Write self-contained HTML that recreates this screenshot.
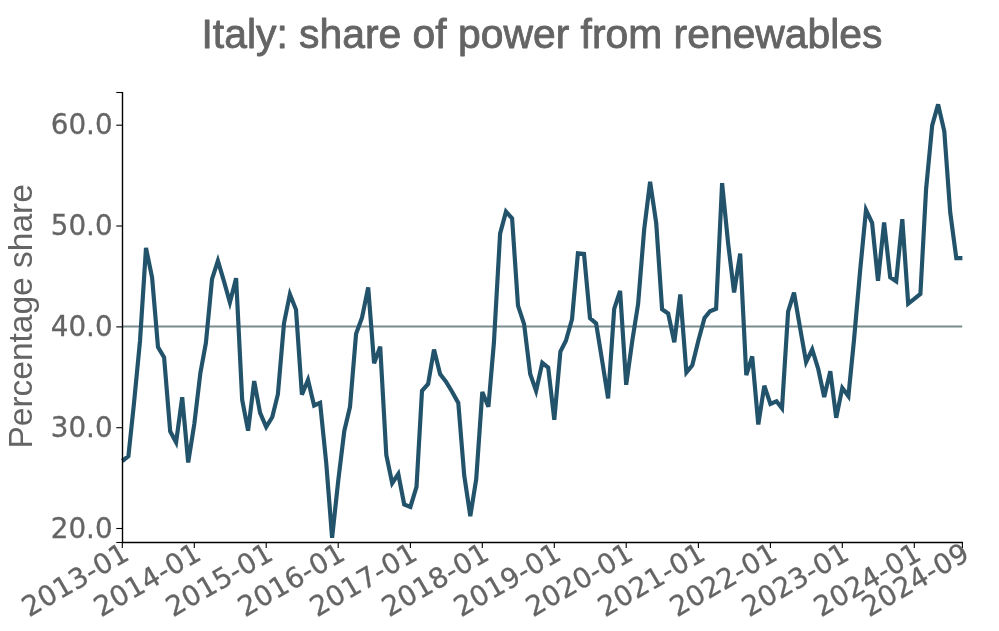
<!DOCTYPE html>
<html lang="en"><head><meta charset="utf-8"><title>Italy: share of power from renewables</title>
<style>
html,body{margin:0;padding:0;background:#fff;}
body{width:999px;height:631px;overflow:hidden;}
svg{display:block;}
.t{font-family:"Liberation Sans",sans-serif;fill:#646464;}
.k{font-family:"DejaVu Sans","Liberation Sans",sans-serif;font-size:27.78px;fill:#646464;stroke:#646464;stroke-width:0.3px;}
</style></head><body>
<svg width="999" height="631" viewBox="0 0 999 631">
<rect width="999" height="631" fill="#ffffff"/>
<text class="t" x="542.0" y="47.9" text-anchor="middle" font-size="41.2" stroke="#646464" stroke-width="0.85" stroke-linejoin="round" textLength="681" lengthAdjust="spacingAndGlyphs">Italy: share of power from renewables</text>
<text class="t" transform="translate(32,316.4) rotate(-90)" text-anchor="middle" font-size="34" textLength="264.4" lengthAdjust="spacingAndGlyphs">Percentage share</text>
<line x1="122.5" y1="326.5" x2="962.2" y2="326.5" stroke="#7a8b8d" stroke-width="2.0"/>
<polyline fill="none" stroke="#22536b" stroke-width="4.17" stroke-linejoin="miter" stroke-miterlimit="4" stroke-linecap="butt" points="122.3,461.0 128.4,456.1 133.9,404.1 140.0,341.0 146.0,248.0 152.1,277.6 158.0,347.2 164.1,357.3 170.2,431.3 176.1,442.4 182.2,397.2 188.2,462.5 194.3,424.0 200.4,372.8 205.9,343.0 212.0,279.2 217.9,260.8 224.0,281.3 229.9,302.5 236.1,278.2 242.2,400.0 248.1,430.7 254.2,381.1 260.1,412.9 266.2,427.0 272.3,417.0 277.9,394.2 284.0,323.2 289.9,294.2 296.0,309.6 301.9,394.6 308.0,379.9 314.1,405.5 320.1,402.8 326.2,462.6 332.1,537.8 338.2,481.0 344.3,430.9 350.0,406.8 356.1,333.7 362.0,317.6 368.2,287.3 374.1,363.3 380.2,346.7 386.3,454.9 392.2,483.2 398.3,474.0 404.2,504.5 410.4,506.9 416.5,486.8 422.0,390.8 428.1,384.0 434.0,349.5 440.1,374.0 446.0,381.6 452.1,391.7 458.3,402.9 464.2,475.3 470.3,516.1 476.2,479.3 482.3,392.0 488.4,406.8 493.9,342.8 500.1,233.6 506.0,211.6 512.1,218.4 518.0,305.7 524.1,324.1 530.2,374.0 536.1,390.9 542.3,362.8 548.2,367.6 554.3,419.7 560.4,351.6 565.9,340.8 572.0,319.4 577.9,253.3 584.0,253.9 590.0,318.2 596.1,323.4 602.2,361.0 608.1,398.4 614.2,308.9 620.1,291.0 626.2,384.8 632.4,340.0 638.1,304.1 644.2,229.3 650.1,181.8 656.2,222.9 662.1,309.3 668.2,313.6 674.3,342.3 680.3,294.4 686.4,372.4 692.3,365.3 698.4,340.4 704.5,318.0 710.0,311.2 716.1,308.8 722.1,183.1 728.2,244.0 734.1,292.4 740.2,253.6 746.3,375.1 752.2,356.4 758.3,424.5 764.3,385.7 770.4,404.0 776.5,401.3 782.0,408.3 788.1,311.7 794.0,292.6 800.1,328.0 806.1,362.0 812.2,349.5 818.3,369.2 824.2,397.0 830.3,371.3 836.2,417.8 842.3,387.9 848.4,396.1 854.0,340.0 860.1,271.0 866.0,210.0 872.1,222.8 878.0,280.8 884.1,222.5 890.2,277.3 896.2,281.3 902.3,219.1 908.2,303.6 914.3,298.8 920.4,294.0 926.1,189.0 932.2,125.4 938.1,104.4 944.3,131.4 950.2,212.4 956.3,258.1 962.4,258.1"/>
<g stroke="#000" stroke-width="1.39" fill="none">
<line x1="122.5" y1="92.0" x2="122.5" y2="543.0"/>
<line x1="122.0" y1="542.5" x2="963" y2="542.5"/>
</g>
<g stroke="#000" stroke-width="1.1">
<line x1="116.3" y1="528.5" x2="122.5" y2="528.5"/>
<line x1="116.3" y1="427.7" x2="122.5" y2="427.7"/>
<line x1="116.3" y1="326.9" x2="122.5" y2="326.9"/>
<line x1="116.3" y1="226.0" x2="122.5" y2="226.0"/>
<line x1="116.3" y1="125.2" x2="122.5" y2="125.2"/>
<line x1="116.3" y1="92.5" x2="122.5" y2="92.5"/>
<line x1="116.3" y1="542.5" x2="122.5" y2="542.5"/>
<line x1="122.3" y1="542.5" x2="122.3" y2="547.9"/>
<line x1="194.3" y1="542.5" x2="194.3" y2="547.9"/>
<line x1="266.2" y1="542.5" x2="266.2" y2="547.9"/>
<line x1="338.2" y1="542.5" x2="338.2" y2="547.9"/>
<line x1="410.4" y1="542.5" x2="410.4" y2="547.9"/>
<line x1="482.3" y1="542.5" x2="482.3" y2="547.9"/>
<line x1="554.3" y1="542.5" x2="554.3" y2="547.9"/>
<line x1="626.2" y1="542.5" x2="626.2" y2="547.9"/>
<line x1="698.4" y1="542.5" x2="698.4" y2="547.9"/>
<line x1="770.4" y1="542.5" x2="770.4" y2="547.9"/>
<line x1="842.3" y1="542.5" x2="842.3" y2="547.9"/>
<line x1="914.3" y1="542.5" x2="914.3" y2="547.9"/>
<line x1="962.4" y1="542.5" x2="962.4" y2="547.9"/>
</g>
<text class="k" x="112.6" y="537.6" text-anchor="end">20.0</text>
<text class="k" x="112.6" y="436.6" text-anchor="end">30.0</text>
<text class="k" x="112.6" y="335.6" text-anchor="end">40.0</text>
<text class="k" x="112.6" y="234.6" text-anchor="end">50.0</text>
<text class="k" x="112.6" y="133.6" text-anchor="end">60.0</text>
<text class="k" transform="translate(130.9,558.7) rotate(-30)" text-anchor="end" textLength="117.7" lengthAdjust="spacing">2013-01</text>
<text class="k" transform="translate(202.9,558.7) rotate(-30)" text-anchor="end" textLength="117.7" lengthAdjust="spacing">2014-01</text>
<text class="k" transform="translate(274.8,558.7) rotate(-30)" text-anchor="end" textLength="117.7" lengthAdjust="spacing">2015-01</text>
<text class="k" transform="translate(346.8,558.7) rotate(-30)" text-anchor="end" textLength="117.7" lengthAdjust="spacing">2016-01</text>
<text class="k" transform="translate(419.0,558.7) rotate(-30)" text-anchor="end" textLength="117.7" lengthAdjust="spacing">2017-01</text>
<text class="k" transform="translate(490.9,558.7) rotate(-30)" text-anchor="end" textLength="117.7" lengthAdjust="spacing">2018-01</text>
<text class="k" transform="translate(562.9,558.7) rotate(-30)" text-anchor="end" textLength="117.7" lengthAdjust="spacing">2019-01</text>
<text class="k" transform="translate(634.8,558.7) rotate(-30)" text-anchor="end" textLength="117.7" lengthAdjust="spacing">2020-01</text>
<text class="k" transform="translate(707.0,558.7) rotate(-30)" text-anchor="end" textLength="117.7" lengthAdjust="spacing">2021-01</text>
<text class="k" transform="translate(779.0,558.7) rotate(-30)" text-anchor="end" textLength="117.7" lengthAdjust="spacing">2022-01</text>
<text class="k" transform="translate(850.9,558.7) rotate(-30)" text-anchor="end" textLength="117.7" lengthAdjust="spacing">2023-01</text>
<text class="k" transform="translate(922.9,558.7) rotate(-30)" text-anchor="end" textLength="117.7" lengthAdjust="spacing">2024-01</text>
<text class="k" transform="translate(971.0,558.7) rotate(-30)" text-anchor="end" textLength="117.7" lengthAdjust="spacing">2024-09</text>
</svg></body></html>
